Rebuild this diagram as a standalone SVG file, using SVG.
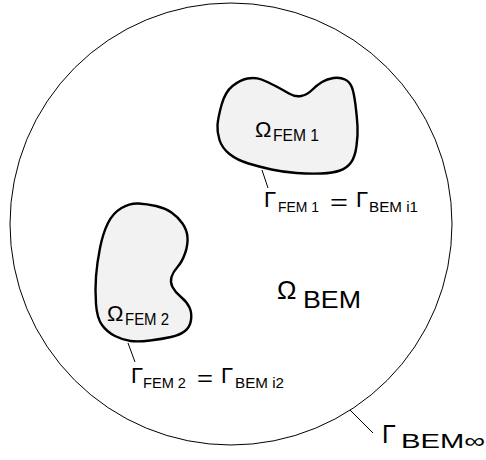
<svg xmlns="http://www.w3.org/2000/svg" width="486" height="460" viewBox="0 0 486 460">
<style>
text{font-family:"Liberation Sans",Arial,sans-serif;fill:#000}
.big{font-size:22px}
.sub{font-size:15px}
.blob{fill:#f2f2f2;stroke:#000;stroke-width:2.4;stroke-linejoin:round}
.lead{stroke:#000;stroke-width:1;fill:none}
</style>
<rect width="486" height="460" fill="#fff"/>
<g id="domain-bem">
<circle cx="231" cy="224" r="221" fill="none" stroke="#000" stroke-width="1"/>
<text class="big" x="277" y="299" font-size="26" style="font-size:26px">Ω</text>
<text x="303" y="308" style="font-size:24px" textLength="58" lengthAdjust="spacingAndGlyphs">BEM</text>
</g>
<g id="fem1">
<path class="blob" d="M217.5,125 Q218,118 221.5,105 Q225,92 232.5,86 Q240,80 247.5,78.5 Q255,77 261.5,79.5 Q268,82 275.5,86 Q283,90 289,93.5 Q295,97 301,96 Q307,95 312,90 Q317,85 322,82 Q327,79 333.5,78 Q340,77 345,79.5 Q350,82 352,87.5 Q354,93 355.5,105 Q357,117 357.5,126 Q358,135 356.5,146 Q355,157 351,162.5 Q347,168 340,170.5 Q333,173 321.5,173.5 Q310,174 296.5,173 Q283,172 271.5,169.5 Q260,167 248.5,163.5 Q237,160 229.5,154 Q222,148 219.5,140 Q217,132 217.5,125 Z"/>
<text class="big" x="255" y="137">Ω</text>
<text x="273" y="141" style="font-size:16px" textLength="46" lengthAdjust="spacingAndGlyphs">FEM 1</text>
</g>
<g id="fem2">
<path class="blob" d="M121.5,208 Q130,203 138.5,203.5 Q147,204 156,206 Q165,208 171.5,212.5 Q178,217 182.5,223.5 Q187,230 187.5,237.5 Q188,245 185,253.5 Q182,262 177.5,267 Q173,272 171.5,277 Q170,282 172.5,287 Q175,292 181,297 Q187,302 189.5,307.5 Q192,313 191,320 Q190,327 185,331 Q180,335 171,337 Q162,339 150,340.5 Q138,342 130.5,341 Q123,340 115,336 Q107,332 102,325 Q97,318 96,304 Q95,290 96,276.5 Q97,263 100,248 Q103,233 108,223 Q113,213 121.5,208 Z"/>
<text class="big" x="107" y="321">Ω</text>
<text x="125" y="325" style="font-size:16px" textLength="44" lengthAdjust="spacingAndGlyphs">FEM 2</text>
</g>
<g id="label-gamma1">
<text class="big" x="264" y="207">Γ</text>
<text class="sub" x="278" y="212" textLength="41" lengthAdjust="spacingAndGlyphs">FEM 1</text>
<text class="big" x="330" y="210" textLength="18" lengthAdjust="spacingAndGlyphs">=</text>
<text class="big" x="356" y="207">Γ</text>
<text class="sub" x="369" y="212" textLength="49" lengthAdjust="spacingAndGlyphs">BEM i1</text>
</g>
<g id="label-gamma2">
<text class="big" x="131" y="383">Γ</text>
<text class="sub" x="143" y="388" textLength="43" lengthAdjust="spacingAndGlyphs">FEM 2</text>
<text class="big" x="197" y="386" textLength="16" lengthAdjust="spacingAndGlyphs">=</text>
<text class="big" x="221" y="383">Γ</text>
<text class="sub" x="235" y="388" textLength="49" lengthAdjust="spacingAndGlyphs">BEM i2</text>
</g>
<g id="label-gamma-inf">
<text x="382" y="443" style="font-size:25px">Γ</text>
<text x="401" y="448" style="font-size:21px" textLength="84" lengthAdjust="spacingAndGlyphs">BEM∞</text>
</g>
<g id="connectors">
<line class="lead" x1="262" y1="170" x2="268" y2="188"/>
<line class="lead" x1="128" y1="343" x2="135" y2="362"/>
<line class="lead" x1="350" y1="410" x2="373" y2="433"/>
</g>
</svg>
